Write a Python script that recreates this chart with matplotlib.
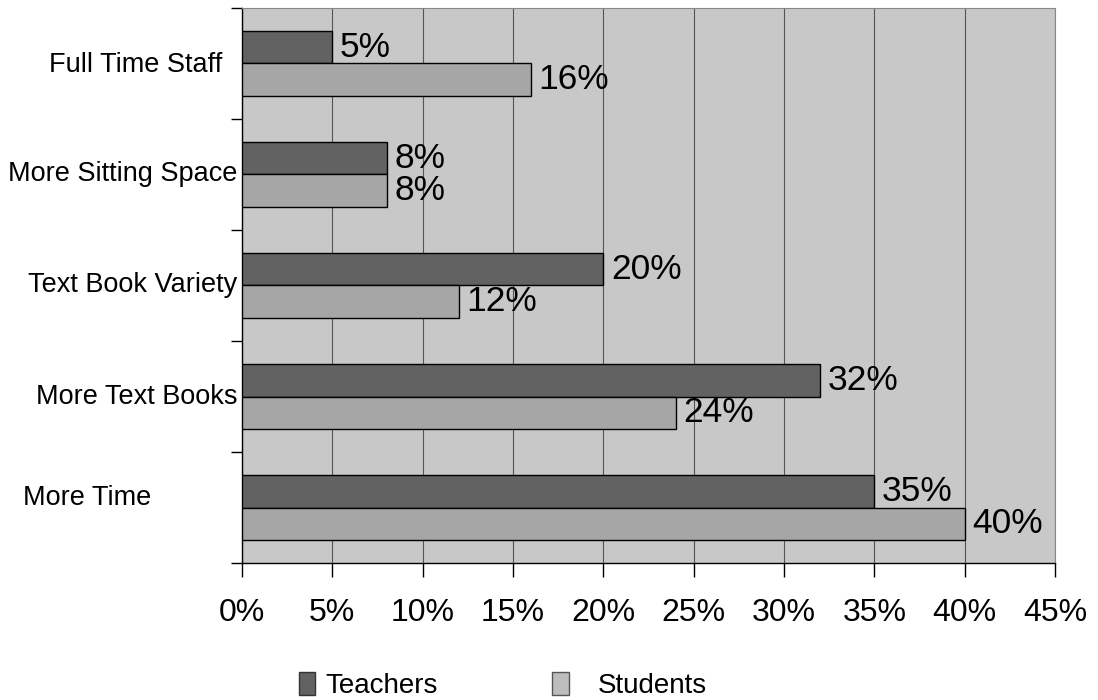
import numpy as np
import matplotlib
matplotlib.use("Agg")
from matplotlib import pyplot as plt
from matplotlib.patches import Patch

plt.rcParams['font.family'] = ['Liberation Sans', 'DejaVu Sans']

# data, bottom to top
categories = ["More Time", "More Text Books", "Text Book Variety",
              "More Sitting Space", "Full Time Staff"]
teachers = [35, 32, 20, 8, 5]
students = [40, 24, 12, 8, 16]
x_ticks = [0, 5, 10, 15, 20, 25, 30, 35, 40, 45]

fig = plt.figure(figsize=(10.98, 7.0), dpi=100)
ax = fig.add_axes([0.2204, 0.1957, 0.7404, 0.7929])
ax.set_facecolor("#c8c8c8")

y = np.arange(len(categories))
h = 0.29
ax.barh(y + h / 2, teachers, height=h, color="#626262", edgecolor="black",
        linewidth=1, zorder=3)
ax.barh(y - h / 2, students, height=h, color="#a6a6a6", edgecolor="black",
        linewidth=1, zorder=3)

# value labels
for i in range(len(categories)):
    ax.text(teachers[i] + 0.42, y[i] + h / 2, str(teachers[i]) + "%",
            va="center", ha="left", fontsize=25.5, zorder=4)
    ax.text(students[i] + 0.42, y[i] - h / 2, str(students[i]) + "%",
            va="center", ha="left", fontsize=25.5, zorder=4)

ax.set_xlim(0, 45)
ax.set_ylim(-0.5, len(categories) - 0.5)
ax.set_xticks(x_ticks)
ax.set_xticklabels([str(t) + "%" for t in x_ticks], fontsize=23)
ax.tick_params(axis="x", length=10, width=1, pad=15, colors="black")
ax.xaxis.grid(True, color="#555555", linewidth=0.8, zorder=1)

# category labels, placed a bit unevenly as in the original
ax.set_yticks(y)
ax.set_yticklabels([])
ax.tick_params(axis="y", which="major", length=0)
ax.set_yticks(np.arange(-0.5, len(categories), 1.0), minor=True)
ax.tick_params(axis="y", which="minor", length=8, width=1)
trans = ax.get_yaxis_transform()
for i, name in enumerate(categories):
    if name == "More Time":
        ax.text(-0.2694, y[i] + 0.09, name, transform=trans, ha="left",
                va="center", fontsize=19.5)
    elif name == "Full Time Staff":
        ax.text(-0.0246, y[i] - 0.015, name, transform=trans, ha="right",
                va="center", fontsize=19.5)
    else:
        ax.text(-0.006, y[i], name, transform=trans, ha="right",
                va="center", fontsize=19.5)

for s in ["top", "right"]:
    ax.spines[s].set_color("#888888")
    ax.spines[s].set_linewidth(0.8)
ax.spines["left"].set_linewidth(1)
ax.spines["bottom"].set_linewidth(1)

# legend, two separate entries like the original
leg1 = fig.legend([Patch(facecolor="#626262", edgecolor="#333333")], ["Teachers"],
                  loc="lower left", bbox_to_anchor=(0.272, 0.001), frameon=False,
                  fontsize=20, handlelength=0.6, handleheight=0.9,
                  handletextpad=0.35, borderpad=0, borderaxespad=0)
leg2 = fig.legend([Patch(facecolor="#bdbdbd", edgecolor="#555555")], ["Students"],
                  loc="lower left", bbox_to_anchor=(0.503, 0.001), frameon=False,
                  fontsize=20, handlelength=0.6, handleheight=0.9,
                  handletextpad=1.05, borderpad=0, borderaxespad=0)

fig.savefig("out.png", dpi=100)
